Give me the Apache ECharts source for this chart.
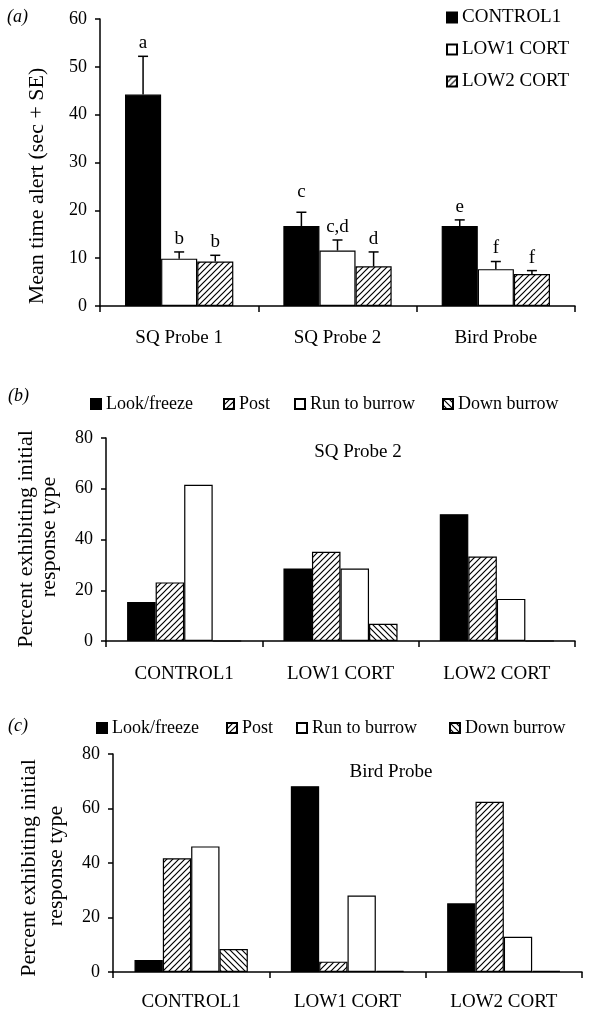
<!DOCTYPE html>
<html>
<head>
<meta charset="utf-8">
<script src="https://cdn.jsdelivr.net/npm/echarts@6/dist/echarts.min.js"></script>
<style>
html,body{margin:0;padding:0;background:#fff;}
#chart{width:590px;height:1019px;}
</style>
</head>
<body>
<div id="chart"></div>
<script>
// ---------- DATA ----------
const probeCategories = ['SQ Probe 1', 'SQ Probe 2', 'Bird Probe'];
const treatmentNames = ['CONTROL1', 'LOW1 CORT', 'LOW2 CORT'];
const control1Mean = [44.2, 16.7, 16.7];
const low1Mean = [9.9, 11.6, 7.7];
const low2Mean = [9.3, 8.3, 6.7];
const control1SE = [8.0, 2.9, 1.3];
const low1SE = [1.4, 2.2, 1.6];
const low2SE = [1.3, 3.0, 0.7];
const control1Letters = ['a', 'c', 'e'];
const low1Letters = ['b', 'c,d', 'f'];
const low2Letters = ['b', 'd', 'f'];

const groupCategories = ['CONTROL1', 'LOW1 CORT', 'LOW2 CORT'];
const responseNames = ['Look/freeze', 'Post', 'Run to burrow', 'Down burrow'];
// (b) SQ Probe 2
const lookSQ2 = [15.4, 28.6, 50.0];
const postSQ2 = [23.1, 35.2, 33.3];
const runSQ2 = [61.6, 28.6, 16.6];
const downSQ2 = [0, 6.8, 0];
// (c) Bird Probe
const lookBird = [4.4, 68.2, 25.2];
const postBird = [41.7, 3.8, 62.5];
const runBird = [46.1, 28.1, 12.9];
const downBird = [8.4, 0.4, 0.4];

const yTicksA = {min: 0, max: 60, interval: 10};
const yTicksB = {min: 0, max: 80, interval: 20};

// ---------- STYLE / LAYOUT ----------
const FONT = "'Liberation Serif', 'Times New Roman', serif";
const GAP_A = 0.316;
const letterLift = [[13, 20, 13], [13, 13, 13], [13, 13, 13]];

function makeHatch(forward) {
  const c = document.createElement('canvas');
  c.width = 6; c.height = 6;
  const g = c.getContext('2d');
  g.fillStyle = '#fff'; g.fillRect(0, 0, 6, 6);
  g.strokeStyle = '#000'; g.lineWidth = 1.2;
  g.beginPath();
  if (forward) {
    g.moveTo(-1, 7); g.lineTo(7, -1);
    g.moveTo(-1, 1); g.lineTo(1, -1);
    g.moveTo(5, 7); g.lineTo(7, 5);
  } else {
    g.moveTo(-1, -1); g.lineTo(7, 7);
    g.moveTo(5, -1); g.lineTo(7, 1);
    g.moveTo(-1, 5); g.lineTo(1, 7);
  }
  g.stroke();
  return {image: c, repeat: 'repeat'};
}
const fills = {
  black: '#000',
  white: '#fff',
  fwd: makeHatch(true),
  back: makeHatch(false)
};

function bar(name, data, idx, fill, gap) {
  return {
    type: 'bar', name: name, data: data,
    xAxisIndex: idx, yAxisIndex: idx,
    barGap: '0%', barCategoryGap: gap,
    itemStyle: {color: fill, borderColor: '#000', borderWidth: 1.2},
    emphasis: {disabled: true},
    animation: false
  };
}

function xAxis(idx, cats, margin, fs) {
  return {
    type: 'category', gridIndex: idx, data: cats,
    axisLine: {lineStyle: {color: '#000', width: 1.5}},
    axisTick: {show: true, alignWithLabel: false, length: 6, lineStyle: {color: '#000', width: 1.5}},
    axisLabel: {color: '#000', fontFamily: FONT, fontSize: fs, margin: margin},
    splitLine: {show: false}
  };
}
function yAxis(idx, t) {
  return {
    type: 'value', gridIndex: idx, min: t.min, max: t.max, interval: t.interval,
    axisLine: {show: true, lineStyle: {color: '#000', width: 1.5}},
    axisTick: {show: true, length: 5, lineStyle: {color: '#000', width: 1.5}},
    axisLabel: {color: '#000', fontFamily: FONT, fontSize: 18, margin: 13},
    splitLine: {show: false}
  };
}

// error bar data built from arrays
const meansA = [control1Mean, low1Mean, low2Mean];
const seA = [control1SE, low1SE, low2SE];
const lettersA = [control1Letters, low1Letters, low2Letters];
const errData = [];
for (let s = 0; s < 3; s++) {
  for (let c = 0; c < probeCategories.length; c++) {
    errData.push([c, meansA[s][c], seA[s][c], s]);
  }
}

const errSeries = {
  type: 'custom', xAxisIndex: 0, yAxisIndex: 0, data: errData,
  encode: {x: 0, y: 1},
  silent: true, animation: false, z: 5,
  renderItem: function (params, api) {
    const c = api.value(0), v = api.value(1), e = api.value(2), s = api.value(3);
    const band = api.size([1, 0])[0];
    const w = band * (1 - GAP_A) / 3;
    const x = api.coord([c, 0])[0] + (s - 1) * w;
    const yTop = api.coord([c, v])[1];
    const yErr = api.coord([c, v + e])[1];
    return {
      type: 'group',
      children: [
        {type: 'line', shape: {x1: x, y1: yTop, x2: x, y2: yErr}, style: {stroke: '#000', lineWidth: 1.5}},
        {type: 'line', shape: {x1: x - 5, y1: yErr, x2: x + 5, y2: yErr}, style: {stroke: '#000', lineWidth: 1.5}},
        {type: 'text', x: x, y: yErr - letterLift[s][c],
          style: {text: lettersA[s][c], fill: '#000', fontFamily: FONT, fontSize: 19, align: 'center', verticalAlign: 'middle'}}
      ]
    };
  }
};

function legendItem(name, left, top, fs) {
  return {
    data: [name], left: left, top: top, orient: 'horizontal', padding: 0,
    icon: 'rect', itemWidth: 10, itemHeight: 10,
    selectedMode: false,
    textStyle: {color: '#000', fontFamily: FONT, fontSize: fs}
  };
}

const chart = echarts.init(document.getElementById('chart'), null, {renderer: 'canvas'});
const option = {
  backgroundColor: '#fff',
  animation: false,
  grid: [
    {left: 100, right: 15, top: 19, height: 287},
    {left: 106, right: 15, top: 438, height: 203},
    {left: 113, right: 8, top: 754, height: 218}
  ],
  xAxis: [
    xAxis(0, probeCategories, 23, 19),
    xAxis(1, groupCategories, 24, 19),
    xAxis(2, groupCategories, 21, 19)
  ],
  yAxis: [yAxis(0, yTicksA), yAxis(1, yTicksB), yAxis(2, yTicksB)],
  legend: [
    {
      data: treatmentNames, left: 446, top: 8, orient: 'vertical', itemGap: 13, padding: 0,
      icon: 'rect', itemWidth: 10, itemHeight: 10, selectedMode: false,
      textStyle: {color: '#000', fontFamily: FONT, fontSize: 19}
    },
    legendItem(responseNames[0], 90, 395, 18),
    legendItem(responseNames[1], 223, 395, 18),
    legendItem(responseNames[2], 294, 395, 18),
    legendItem(responseNames[3], 442, 395, 18),
    legendItem(responseNames[0], 96, 719, 18),
    legendItem(responseNames[1], 226, 719, 18),
    legendItem(responseNames[2], 296, 719, 18),
    legendItem(responseNames[3], 449, 719, 18)
  ],
  graphic: [
    {type: 'text', left: 7, top: 8, style: {text: '(a)', fill: '#000', font: 'italic 18px ' + FONT}},
    {type: 'text', left: 8, top: 387, style: {text: '(b)', fill: '#000', font: 'italic 18px ' + FONT}},
    {type: 'text', left: 8, top: 717, style: {text: '(c)', fill: '#000', font: 'italic 18px ' + FONT}},
    {type: 'text', x: 37, y: 186, rotation: Math.PI / 2,
      style: {text: 'Mean time alert (sec + SE)', fill: '#000', fontFamily: FONT, fontSize: 22, align: 'center', verticalAlign: 'middle'}},
    {type: 'text', x: 26, y: 539, rotation: Math.PI / 2,
      style: {text: 'Percent exhibiting initial', fill: '#000', fontFamily: FONT, fontSize: 22, align: 'center', verticalAlign: 'middle'}},
    {type: 'text', x: 49, y: 537, rotation: Math.PI / 2,
      style: {text: 'response type', fill: '#000', fontFamily: FONT, fontSize: 22, align: 'center', verticalAlign: 'middle'}},
    {type: 'text', x: 29, y: 868, rotation: Math.PI / 2,
      style: {text: 'Percent exhibiting initial', fill: '#000', fontFamily: FONT, fontSize: 22, align: 'center', verticalAlign: 'middle'}},
    {type: 'text', x: 56, y: 866, rotation: Math.PI / 2,
      style: {text: 'response type', fill: '#000', fontFamily: FONT, fontSize: 22, align: 'center', verticalAlign: 'middle'}},
    {type: 'text', x: 358, y: 452,
      style: {text: 'SQ Probe 2', fill: '#000', fontFamily: FONT, fontSize: 19, align: 'center', verticalAlign: 'middle'}},
    {type: 'text', x: 391, y: 772,
      style: {text: 'Bird Probe', fill: '#000', fontFamily: FONT, fontSize: 19, align: 'center', verticalAlign: 'middle'}}
  ],
  series: [
    bar(treatmentNames[0], control1Mean, 0, fills.black, '31.6%'),
    bar(treatmentNames[1], low1Mean, 0, fills.white, '31.6%'),
    bar(treatmentNames[2], low2Mean, 0, fills.fwd, '31.6%'),
    errSeries,
    bar(responseNames[0], lookSQ2, 1, fills.black, '27%'),
    bar(responseNames[1], postSQ2, 1, fills.fwd, '27%'),
    bar(responseNames[2], runSQ2, 1, fills.white, '27%'),
    bar(responseNames[3], downSQ2, 1, fills.back, '27%'),
    bar(responseNames[0], lookBird, 2, fills.black, '27.5%'),
    bar(responseNames[1], postBird, 2, fills.fwd, '27.5%'),
    bar(responseNames[2], runBird, 2, fills.white, '27.5%'),
    bar(responseNames[3], downBird, 2, fills.back, '27.5%')
  ]
};
chart.setOption(option);
</script>
</body>
</html>
